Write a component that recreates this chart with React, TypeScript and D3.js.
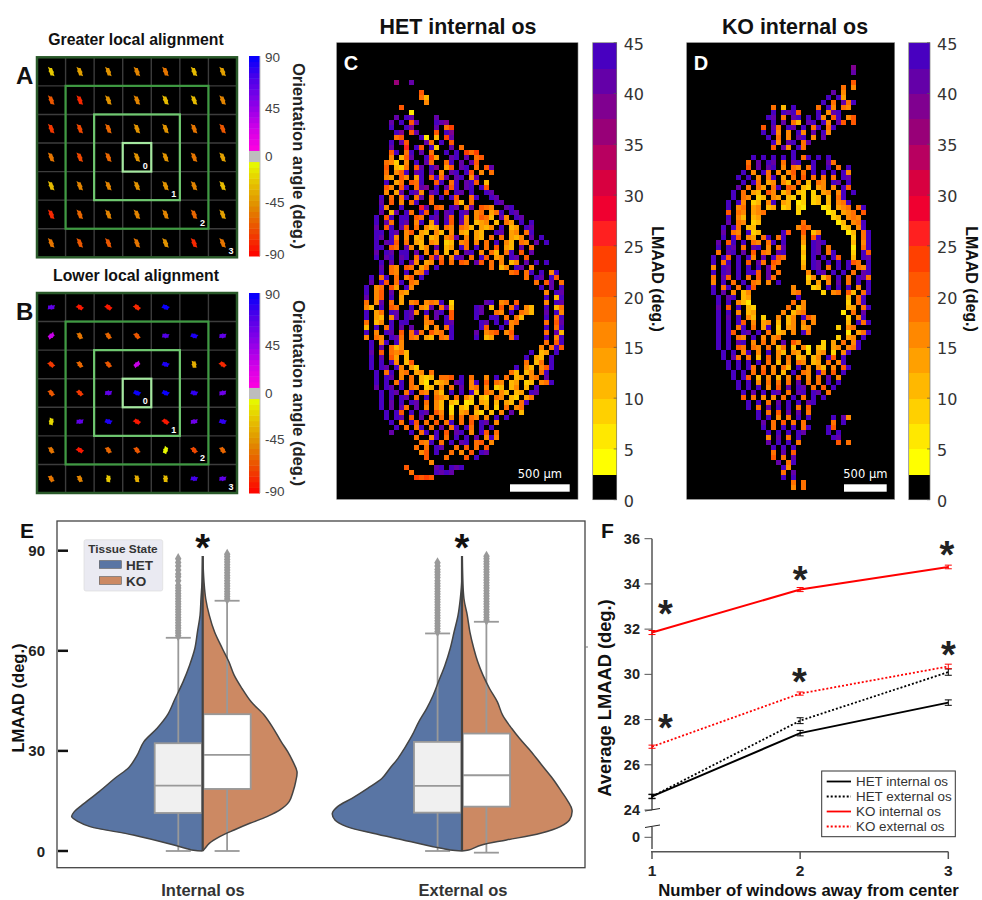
import * as d3 from 'd3';

const sans = '"Liberation Sans", Arial, sans-serif';
const dejavu = '"DejaVu Sans", Verdana, sans-serif';

// A and B: orientation angle in each of the 7x7 windows (null = empty window)
const alignedAngles = [
  [-25, -40, -45, -50, -55, -28, -40],
  [-65, -78, -42, -50, -28, -28, -50],
  [-72, -68, -60, -42, -42, -55, -62],
  [-55, -68, -60, -45, -45, -55, -40],
  [-28, -50, -48, -42, -45, -50, -28],
  [-80, -58, -48, -48, -50, -60, -40],
  [-55, -62, -65, -55, -45, -80, -55],
];
const looseAngles = [
  [60, -85, -82, -80, 85, null, null],
  [25, -55, -60, -65, 65, 80, 60],
  [-75, -60, -65, 25, 80, -35, -80],
  [-65, -72, 60, 85, 85, 75, 55],
  [-20, 60, 80, -85, -82, 55, 75],
  [-55, -85, -60, -62, -8, -68, -60],
  [-55, -50, -25, -35, -30, 70, 60],
];
const orientationTicks = [90, 45, 0, -45, -90];
const orientationLabelOffsets = [1, 51.5, 99.5, 145.5, 197.5];
const windowRings = [0, 1, 2, 3];
const blobOutline = [1, 0.7, 0.85, 0.55, 0.62, 0.5, 0.95, 0.75, 0.9, 0.55, 0.65, 0.5];

// C and D: LMAAD band per tissue cell ('.' = no tissue, a..q = band 1..17)
const hetMap = [
  '......n..p', '', '...........h', '...........gd', '............f', '.......h', '.........b',
  '......p.qp....p', '.....p.q.hp...qpo', '.....q..qo....p.gi', '......qo.hp...h.qo',
  '......gh...qb.d.ip', '.....q.ph...pg.q.h', '.....p..j.qh.qc..p.g', '.....hq.gq.p.g..q.q.igi',
  '.....f.dhp..qie..pq.p.gh', '....gfc.f.q.pg..gq.p.ph', '....h.dcg.hp.qo.eh.pq.g.hp',
  '....g.fhq.pq.p.f.pq.qh.f.g', '....fe.hf.eq.hqgp.pq.fp.', '....q.eg.hgq..hq.gq.pqh.d',
  '....hf.hq.gpo.q.phq.pq.qh', '....f.ep.qpf.pq.h.qp.q..qp', '...q.g.gq.gp.h.q.qh..gq..qp',
  '...p.h.f.gq..g....gd.g....qp', '...qf..q...jp.hg.qp.fp.hgf..pq', '...p.dp.qg.qh.q.pq.qp.fg.egq.qp',
  '..q.hq.qq.hg.qp.ph.qf.fhgd.pf.qp', '..q.pg.qp.fq.eq.qh.pf.def.d.ge.q.q',
  '..p.hq.ph.g.fde.gf.gfd.edf.q.de.qp', '..qq.qp.fh.ed.fd.f.ed.ed..qp.ef.gq',
  '..qp.qf.f.de.de.fgp.f.ed.g.g.edf.p.q', '..q.pqh.g.ed.fe.cd.fg.f.g.q.fd.gf.p.q',
  '..qq.hg.pf.df.p.de.qg.q.g.h.ed.p.g.', '..p.qp.qq.p.f.g.d.f.pq.f.gd.gq.h.p',
  '..q.pq.pq.gq.hpg.fqp.g.qh.ef.qp.h', '...q.p.q.pf.ef.h.g.hg.ph.g.f.df.p.q.q',
  '...p.gf.hg.eg.q..........g.df.qp.f.', '...q.gf.q.fgq................gh.gq.q.fq',
  '.q.gq.g.fh.q....................g.qp.qh', '.p.qh.gq.gf.......................g.hp.g',
  'q.fg.he.qf.........................q.p.q', 'q.fh.p.fe...........................f.qp',
  'p.fh.q.e............................q.dq',
  'g.fp.g.e.fg.fgfq.c......pq.fg.h.....f.qp', 'fd.q.hg..q.fep.gpd....qp.d.h.gq.fd..q.dg',
  'q.eg.qp.qpf.q.pq.h....qp..gf.q.gfd..p.qf', 'q.ed.fp.qp..g.p.qh....q..qq.g.gd....q.gq',
  'g.df.q.qq...fg..qp.....qp.q.qfg.....g.hp', 'd.q.gq.p.p..e.f.gq.....qh..q.f......q.gq',
  'q.f.qp.h.gpg.hfg.q....p.fgh.fh......g.pd', 'f.gf.qpg.gf.ed.gfq....q.de...gq.....q.fq',
  '.q.fq.qf............................g.hq', '.q.p.gdf...........................f.gqh',
  '.p.h.gfgd........................q.de.q', '.q.p.he.d.......................q.ed.q',
  '.q.q.qf.dh......................g.dg.q', '.q.qp.qf.ec...................q.fd.fhq',
  '..q.gq.fg.ef.g...............gd.df.gq.', '..q.qp.f.g.dcd.ggh.q.g..f.q.g.de.fg.p',
  '..q.q.gq.g.db.def.pq.fq.h.gf.de.cd.fgq', '..p.qp.q.gf.cd.f.g.p.fg.f.cd.df.d.q',
  '...q.qp.gq.gf.fd.q.q.qd.gf.fd.de.qp', '...q.q.qp.g.q.gfe.g.fd.dc.gf.dc.eg.',
  '...q.p.q.qp.g.fd.dc.bc.ed.d.ed.gq', '...q.p.pg.p.f.fd.b.dc.f.e.c.g.fg',
  '....q.qh.q.qp.hf.c.ef.dc.d.f.p.d', '....q.qp.h.p.g.g.f.g.gf.f.q.q', '.....q.g.qh.g.h.gq.g.h.qp.f',
  '......q.g.gq.g.p.gq.qg.q.q', '.....p...q.gq.q.h.pq.f.qh.g', '..........g..fq.g.q.q.p.fqf',
  '...........gfq.g.q.pq.gh.f', '..........g.g.qp..g.h.g.h', '...........fh.q..g.f.h.qp',
  '............h...g...h.q', '.............f', '........h.....pq.qpq', '.........g....qpqp', '..........ihih',
];
const koMap = [
  '............................o', '............................p', '', '............................h',
  '..........................g.f', '........................p.f', '.......................q.qe',
  '......................q.g.pgq', '............g.d.q....g.qf.gf', '............q.qpqh...q.fpq.',
  '...........qp.g.pq.q.qf.hq.fh', '............q.p.gd.pq.qf.ph.h', '..........h.pg.qp.q.gq.gq',
  '..........q.qf.f.qf.p.qf', '...........q.g.f.pq.f.p', '............qf.pq.gp.', '............h.pf.qg',
  '................q', '........q.q.q.q.q.gq.q.q', '.......g.p.qp.g.pq..q..pg', '.......h.p.pq.f.gf.gq..q.g.q',
  '......q.f.qg.f.fh.g.q.q.q.qf', '.....q.q.f.gq.e.g.h.g.g.g.qp', '......q.qg.ef.fd.g.d.gf.qp.q',
  '.....p.g.ge.gq.hg.dc.ef.f.qh.', '....q.g.ed.hf.df.dc.c.ef.fq.q', '....q.gf.cd.fe.dc.c.cd.d.gq.',
  '...q.qf.cd.fq.ed.bc.cd.d.fgq', '...q.fg.ef.de.cd.cb...bc.efg.gq', '...h.gf.efg......c.....bc.efg.h',
  '...q.fd.de..............cd.fgf.', '...p.gf.cd........g......bd.fgq', '..q.qg.dd........fhg......cd.fq',
  '..p.gf.qcd....qh..h.df.....bd.gq', '..q.qh.fe.gq.gq...f.hq......c.gq', '.p.hq.q.gf.gq.q...e.qpq.....d.fq',
  '.q.qp.g.pq.f.gp...c.qp.g....b.gq', '.g.pq.p.h.gf.pq...d.qp.gq...c.qh', 'q.qh.q.qf.p.qhg...c.q.q.qh..d.qp',
  'q.gq.q.h.pg.hg....d.qp.q.q.qhg.q', 'f.qp.q.q.q.pg.....e.qp.g.q.q.gfq', 'q.qp.q.qqh.p.g.....f.qp.q.q.g.pq',
  'g.ph.q.g.h.pg......cf.dg.q.g.qpg', 'f.q.g.q.gf.f.q.....d.e.f.p.g.q.q', 'q.gq.g.qh.......f...cd.q.q.q.f.q',
  'q.p.f.df........fg....c.fg.hd.gq', '.q.pq.de.........q.........d.gq.', '.q.q.fdb........g.f........c.gq.',
  '.p.h.q.dc......g.df........de.gq', '.q.q.f.de.....f.dfg.......b.g.p', '.q.p.q.fd.c..f.df.qhf......c.fq.',
  '.q.q.qh.f.ef.d.df.f.f......d.qgq', '.q.q.gq.g.eq.c.ef.ef.....c.fg.', '.q.qh.qp.q.g.de.f.qg.......b.egq',
  '.q.q.gf.q.f.fg...........c.ef.q', '.q.q.pq.f.g.f.p.hf....c.e.g.fq', '.q.q.hg.gf.g.dg.d.fb.dc.ef.fgq',
  '..q.q.fq.f.q.fd.fe.c.ef.c.fq', '..q.pg.g.d.h.f.g.de.df.qh.q', '...q.q.q.q.g.d.f.gf.de.g.fq',
  '...q.q.qg.g.f.gd.q.f.fd.f.hq', '....q.q.g.h.f.d.q.gf.qg.h.q', '....q.qh.d.f.d.f.h.f.g.p.f',
  '.....q.q.f.g.g.g.p.g.g.q.q', '.....q.q.q.f.h.p.qp.g.h.q', '......q.p.q.qp.g.pq.qp.g',
  '......h.g.f.f.g.q.g.q.q', '.......q.q.g.p.q.q.pq', '.......q.g.p.q.q.g.h', '.........q.g.h.p.p.g',
  '.........q.q.f.g.q.q....q.pf', '..........p.g.h.g.g.....g.q', '..........q.g.q.q.gq...qh',
  '...........q.q.q.qp....q.q', '...........f.p.g.q......qp', '...........p.q.q.g.......h.g',
  '............q.q.q', '............g.p.h', '............h.g.p', '.............p.gq', '..............qf',
  '..............g.p', '..............q.q', '................g.g', '................f.g',
];
const lmaadBands = [
  '#000000', '#ffff00', '#ffe800', '#ffd000', '#ffb800', '#ffa000', '#ff8800', '#ff7000', '#ff5800',
  '#ff4000', '#ff2020', '#f00030', '#d80040', '#b80060', '#980078', '#800090', '#6400a8', '#4800c0',
];
const lmaadTicks = [0, 5, 10, 15, 20, 25, 30, 35, 40, 45];

// E: split violins, half-width as a share of the widest half
const internalHetGrid = [0, 0.2, 1.8, 4.8, 7.3, 8.8, 10.3, 11.8, 13.8, 17.8, 21.8, 25.2, 28.7, 32.7, 36.7, 40.7, 45.7, 50.7, 55.7, 60.7, 65.7, 70.7, 75.6, 80.6, 88.4];
const internalHetDensity = [0, 0.07, 0.22, 0.53, 0.86, 0.95, 1, 0.98, 0.92, 0.79, 0.67, 0.56, 0.5, 0.45, 0.35, 0.27, 0.21, 0.15, 0.1, 0.06, 0.04, 0.02, 0.013, 0.005, 0];
const internalKoGrid = [0, 0.8, 2.3, 4.3, 6.3, 8.3, 10.3, 12.3, 14.8, 17.8, 20.8, 23.8, 26.7, 29.7, 32.7, 36.7, 40.7, 44.7, 48.7, 52.7, 56.7, 60.7, 65.7, 70.7, 75.6, 80.6, 88.4];
const internalKoDensity = [0, 0.018, 0.05, 0.13, 0.24, 0.36, 0.49, 0.59, 0.66, 0.69, 0.71, 0.72, 0.69, 0.65, 0.6, 0.54, 0.47, 0.37, 0.3, 0.24, 0.2, 0.15, 0.09, 0.05, 0.023, 0.01, 0];
const externalHetGrid = [0, 0.3, 1.3, 3.3, 5.3, 7.3, 9.3, 11.3, 13.3, 15.8, 18.8, 21.8, 24.8, 27.7, 30.7, 34.7, 38.7, 42.7, 46.7, 50.7, 55.7, 60.7, 65.7, 70.7, 75.6, 80.6, 87.6];
const externalHetDensity = [0, 0.09, 0.22, 0.45, 0.68, 0.88, 0.97, 0.99, 0.95, 0.84, 0.72, 0.61, 0.55, 0.49, 0.44, 0.38, 0.33, 0.27, 0.22, 0.18, 0.13, 0.09, 0.06, 0.03, 0.013, 0.002, 0];
const externalKoGrid = [0, 0.3, 1.8, 3.3, 5.3, 7.3, 9.3, 12.3, 14.8, 17.8, 21.8, 25.7, 29.7, 33.7, 36.7, 40.7, 44.7, 48.7, 52.7, 56.7, 60.7, 65.7, 70.7, 75.6, 87.6];
const externalKoDensity = [0, 0.05, 0.15, 0.34, 0.6, 0.75, 0.82, 0.84, 0.81, 0.76, 0.69, 0.61, 0.53, 0.44, 0.38, 0.31, 0.27, 0.21, 0.16, 0.12, 0.09, 0.06, 0.04, 0.015, 0.002];

// box stats: low whisker, Q1, median, Q3, high whisker
const internalHetBox = [0, 11.4, 19.6, 32.3, 63.9];
const internalKoBox = [0, 18.6, 28.8, 41, 75];
const externalHetBox = [0, 11.5, 19.5, 32.7, 65.2];
const externalKoBox = [-0.5, 13.3, 22.7, 35.2, 68.7];
const internalHetFliers = [64.5, 65.3, 66, 66.8, 67.6, 68.4, 69.2, 70, 70.8, 71.6, 72.4, 73.2, 74, 74.8, 75.6, 76.4, 77.2, 78, 78.8, 79.6, 81, 82.2, 83, 84.2, 85.4, 86.5, 87.6];
const internalKoFliers = [75.5, 76.3, 77, 77.8, 78.6, 79.4, 80.2, 81, 81.8, 82.6, 83.4, 84.2, 85, 85.8, 86.6, 87.4, 88.2, 88.9];
const externalHetFliers = [65.8, 66.6, 67.4, 68.2, 69, 69.8, 70.6, 71.4, 72.2, 73, 73.8, 74.6, 75.4, 76.2, 77, 77.8, 78.6, 79.4, 80.2, 81, 82, 82.8, 83.6, 84.4, 85.4, 86.4];
const externalKoFliers = [69.2, 70, 70.8, 71.6, 72.4, 73.2, 74, 74.8, 75.6, 76.4, 77.2, 78, 78.8, 79.6, 80.4, 81.2, 82, 82.8, 83.6, 84.4, 85.2, 86, 86.8, 87.6, 88.3];
const lmaadAxisTicks = [0, 30, 60, 90];

// F
const windows = [1, 2, 3];
const hetInternal = [24.6, 27.4, 28.75];
const hetExternal = [24.6, 27.95, 30.1];
const koInternal = [31.85, 33.75, 34.75];
const koExternal = [26.8, 29.15, 30.35];
const hetInternalErr = [0.1, 0.12, 0.12];
const hetExternalErr = [0.08, 0.13, 0.14];
const koInternalErr = [0.09, 0.09, 0.08];
const koExternalErr = [0.07, 0.07, 0.1];
const averageTicks = [0, 24, 26, 28, 30, 32, 34, 36];
const starWindows = [1.09, 1.09, 2, 1.995, 2.99, 3];
const starValues = [33, 27.92, 34.5, 29.98, 35.6, 31.15];

// legend rows for F: label, colour, dotted
const trendLabels = ['HET internal os', 'HET external os', 'KO internal os', 'KO external os'];

const angleColor = d3
  .scaleLinear<string>()
  .domain([-90, -70, -45, -25, -5])
  .range(['#ff0000', '#f04000', '#e08c00', '#e6c000', '#e6ff00']);
const anglePositive = d3
  .scaleLinear<string>()
  .domain([5, 25, 45, 70, 90])
  .range(['#ff00e0', '#d000e8', '#9000e8', '#4c00e8', '#0000ff']);
const colorForAngle = (a: number) => {
  const snapped = Math.round((a - 2.5) / 5) * 5 + 2.5;
  if (Math.abs(a) < 5) return '#bdbdbd';
  return a < 0 ? angleColor(snapped) : anglePositive(snapped);
};

const blobPath = d3
  .lineRadial<number>()
  .angle((_, i) => (i / blobOutline.length) * 2 * Math.PI)
  .radius((d) => d)
  .curve(d3.curveLinearClosed)(blobOutline) as string;

function WindowPanel({ angles, top, title, label, elongated, barTop, barScale }: any) {
  const left = 37;
  const size = 200;
  const pos = d3.scaleLinear().domain([0, 7]).range([left, left + size]);
  const posY = d3.scaleLinear().domain([0, 7]).range([top, top + size]);
  const rings = ['#a5e8a0', '#6fc870', '#3f9a42', '#2a5a2a'];
  const ringWidth = [2.2, 2.2, 2.2, 2.5];
  const stepList = d3.range(-90, 90, 5);
  return (
    <g>
      <text x={136} y={top - 12} textAnchor="middle" fontFamily={sans} fontWeight="bold" fontSize={15.8} fill="#111">
        {title}
      </text>
      <text x={16} y={top + 27} fontFamily={sans} fontWeight="bold" fontSize={24} fill="#111">
        {label}
      </text>
      <rect x={left} y={top} width={size} height={size} fill="#000" />
      {d3.range(1, 7).map((i) => (
        <g key={i} stroke="#3c3c3c" strokeWidth={1.4}>
          <line x1={pos(i)} x2={pos(i)} y1={top} y2={top + size} />
          <line x1={left} x2={left + size} y1={posY(i)} y2={posY(i)} />
        </g>
      ))}
      {angles.flatMap((row: (number | null)[], r: number) =>
        row.map((a, c) =>
          a === null ? null : (
            <path
              key={`${r}-${c}`}
              d={blobPath}
              fill={colorForAngle(a)}
              transform={`translate(${pos(c + 0.5)} ${posY(r + 0.5)}) rotate(${elongated ? -35 : a}) scale(${elongated ? 3.6 : 4} ${elongated ? 6 : 4.4})`}
            />
          ),
        ),
      )}
      {windowRings.map((ring, i) => (
        <rect
          key={ring}
          x={pos(3 - ring)}
          y={posY(3 - ring)}
          width={pos(4 + ring) - pos(3 - ring)}
          height={posY(4 + ring) - posY(3 - ring)}
          fill="none"
          stroke={rings[i]}
          strokeWidth={ringWidth[i]}
        />
      ))}
      {windowRings.map((ring) => (
        <text
          key={ring}
          x={pos(4 + ring) - 6}
          y={posY(4 + ring) - 3}
          textAnchor="middle"
          fontFamily={sans}
          fontWeight="bold"
          fontSize={9}
          fill="#fff"
        >
          {ring}
        </text>
      ))}
      {stepList.map((a) => (
        <rect
          key={a}
          x={249}
          y={barScale(a + 5) + barTop}
          width={11}
          height={barScale(a) - barScale(a + 5) + 0.5}
          fill={a === 0 || a === -5 ? '#bdbdbd' : colorForAngle(a + 2.5)}
        />
      ))}
      <line x1={260} x2={260} y1={barTop + barScale(90)} y2={barTop + barScale(-90)} stroke="#bbb" />
      {orientationTicks.map((t, i) => (
        <text key={t} x={265} y={barTop + orientationLabelOffsets[i] + 5} fontFamily={sans} fontSize={13.5} fill="#444">
          {t}
        </text>
      ))}
      <text
        transform={`translate(292.5 ${barTop + 100}) rotate(90)`}
        textAnchor="middle"
        fontFamily={sans}
        fontWeight="bold"
        fontSize={16.6}
        fill="#222"
      >
        Orientation angle (deg.)
      </text>
    </g>
  );
}

function TissueMap({ rows, boxX, boxW, originX, originY, cell, title, titleX, label, barX, barW, barLabelX, scaleText, scaleX1, scaleX2 }: any) {
  const top = 42.7;
  const height = 456.6;
  const col = d3.scaleLinear().domain([0, 1]).range([originX, originX + cell]);
  const row = d3.scaleLinear().domain([0, 1]).range([originY, originY + cell]);
  const bar = d3.scaleLinear().domain([0, 45]).range([top + 457, top]);
  return (
    <g>
      <text x={titleX} y={34} textAnchor="middle" fontFamily={sans} fontWeight="bold" fontSize={21.4} fill="#111">
        {title}
      </text>
      <rect x={boxX} y={top} width={boxW} height={height} fill="#000" stroke="#888" strokeWidth={0.6} />
      <g shapeRendering="crispEdges">
        {rows.flatMap((line: string, r: number) =>
          [...line].map((ch, c) =>
            ch === '.' ? null : (
              <rect key={`${r}-${c}`} x={col(c)} y={row(r)} width={cell} height={cell} fill={lmaadBands[ch.charCodeAt(0) - 96]} />
            ),
          ),
        )}
      </g>
      <text x={boxX + 7} y={top + 27} fontFamily={sans} fontWeight="bold" fontSize={20} fill="#fff">
        {label}
      </text>
      <text x={(scaleX1 + scaleX2) / 2} y={478} textAnchor="middle" fontFamily={dejavu} fontSize={11.5} fill="#fff">
        {scaleText}
      </text>
      <rect x={scaleX1} y={484.3} width={scaleX2 - scaleX1} height={7.4} fill="#fff" />
      {lmaadBands.map((color, i) => (
        <rect key={i} x={barX} y={bar((i + 1) * 2.5)} width={barW} height={bar(0) - bar(2.5) + 0.5} fill={color} shapeRendering="crispEdges" />
      ))}
      <rect x={barX} y={top} width={barW} height={457} fill="none" stroke="#777" strokeWidth={0.7} />
      {lmaadTicks.map((t) => (
        <g key={t}>
          <line x1={barX + barW - 3} x2={barX + barW} y1={bar(t)} y2={bar(t)} stroke="#555" strokeWidth={0.7} />
          <text x={barX + barW + 7} y={bar(t) + 7} fontFamily={dejavu} fontSize={16} fill="#333">
            {t}
          </text>
        </g>
      ))}
      <text
        transform={`translate(${barLabelX} 279) rotate(90)`}
        textAnchor="middle"
        fontFamily={sans}
        fontWeight="bold"
        fontSize={16}
        fill="#111"
      >
        LMAAD (deg.)
      </text>
    </g>
  );
}

const halfColors = { het: '#5975a4', ko: '#cc8963' };
const diamond = d3.symbol().type(d3.symbolDiamond).size(36);

function Violin({ center, hetGrid, hetDensity, koGrid, koDensity, hetBox, koBox, hetFliers, koFliers, y }: any) {
  const width = d3.scaleLinear().domain([0, 1]).range([0, 131]);
  const half = (grid: number[], density: number[], sign: number) =>
    d3
      .area<number>()
      .y((d) => y(d))
      .x0(center)
      .x1((d, i) => center + sign * width(density[i]))
      .curve(d3.curveCatmullRom)(grid) as string;
  const edge = (grid: number[], density: number[], sign: number) =>
    d3
      .line<number>()
      .y((d) => y(d))
      .x((d, i) => center + sign * width(density[i]))
      .curve(d3.curveCatmullRom)(grid) as string;
  const box = (stats: number[], x0: number, x1: number, fill: string) => {
    const mid = (x0 + x1) / 2;
    return (
      <g stroke="#999" strokeWidth={1.8}>
        <line x1={mid} x2={mid} y1={y(stats[0])} y2={y(stats[1])} />
        <line x1={mid} x2={mid} y1={y(stats[3])} y2={y(stats[4])} />
        <line x1={mid - 12.5} x2={mid + 12.5} y1={y(stats[0])} y2={y(stats[0])} />
        <line x1={mid - 12.5} x2={mid + 12.5} y1={y(stats[4])} y2={y(stats[4])} />
        <rect x={x0} y={y(stats[3])} width={x1 - x0} height={y(stats[1]) - y(stats[3])} fill={fill} />
        <line x1={x0} x2={x1} y1={y(stats[2])} y2={y(stats[2])} />
      </g>
    );
  };
  const fliers = (values: number[], x: number) =>
    values.map((v) => <path key={v} d={diamond() as string} transform={`translate(${x} ${y(v)})`} fill="#999" />);
  return (
    <g>
      <path d={half(hetGrid, hetDensity, -1)} fill={halfColors.het} />
      <path d={half(koGrid, koDensity, 1)} fill={halfColors.ko} />
      {box(hetBox, center - 48, center - 0.8, '#f0f0f0')}
      {box(koBox, center + 0.8, center + 48, '#ffffff')}
      {fliers(hetFliers, center - 24.5)}
      {fliers(koFliers, center + 24.5)}
      <path d={edge(hetGrid, hetDensity, -1)} fill="none" stroke="#444" strokeWidth={1.5} />
      <path d={edge(koGrid, koDensity, 1)} fill="none" stroke="#444" strokeWidth={1.5} />
      <line x1={center} x2={center} y1={y(88.4)} y2={y(0)} stroke="#444" strokeWidth={2.2} />
      <text x={center} y={561} textAnchor="middle" fontFamily={sans} fontWeight="bold" fontSize={38} fill="#111">
        *
      </text>
    </g>
  );
}

function ViolinPanel() {
  const y = d3.scaleLinear().domain([0, 90]).range([851, 550.7]);
  return (
    <g>
      <text x={20} y={538} fontFamily={sans} fontWeight="bold" fontSize={21} fill="#111">
        E
      </text>
      <rect x={57} y={521} width={528} height={346.7} fill="#fff" stroke="#444" strokeWidth={1.3} />
      <line x1={585} x2={588} y1={647} y2={647} stroke="#777" />
      <Violin
        center={202.7}
        hetGrid={internalHetGrid}
        hetDensity={internalHetDensity}
        koGrid={internalKoGrid}
        koDensity={internalKoDensity}
        hetBox={internalHetBox}
        koBox={internalKoBox}
        hetFliers={internalHetFliers}
        koFliers={internalKoFliers}
        y={y}
      />
      <Violin
        center={462}
        hetGrid={externalHetGrid}
        hetDensity={externalHetDensity}
        koGrid={externalKoGrid}
        koDensity={externalKoDensity}
        hetBox={externalHetBox}
        koBox={externalKoBox}
        hetFliers={externalHetFliers}
        koFliers={externalKoFliers}
        y={y}
      />
      {lmaadAxisTicks.map((t) => (
        <g key={t}>
          <line x1={58} x2={68} y1={y(t)} y2={y(t)} stroke="#111" strokeWidth={2.5} />
          <text x={45} y={y(t) + 5.5} textAnchor="end" fontFamily={sans} fontWeight="bold" fontSize={15} fill="#222">
            {t}
          </text>
        </g>
      ))}
      <text
        transform="translate(24 698) rotate(-90)"
        textAnchor="middle"
        fontFamily={sans}
        fontWeight="bold"
        fontSize={16.5}
        fill="#111"
      >
        LMAAD (deg.)
      </text>
      <g fontFamily={sans} fontWeight="bold" fontSize={16.5} fill="#333" textAnchor="middle">
        <text x={203} y={896}>
          Internal os
        </text>
        <text x={463} y={896}>
          External os
        </text>
      </g>
      <rect x={84} y={539.7} width={78.7} height={51.3} rx={2} fill="#eaeaf2" stroke="#ddd" strokeWidth={0.7} />
      <text x={123} y={553} textAnchor="middle" fontFamily={sans} fontWeight="bold" fontSize={11.8} fill="#333">
        Tissue State
      </text>
      <rect x={99.3} y={560.7} width={22} height={7.6} fill={halfColors.het} stroke="#555" strokeWidth={0.6} />
      <rect x={99.3} y={576.7} width={22} height={7.6} fill={halfColors.ko} stroke="#555" strokeWidth={0.6} />
      <g fontFamily={sans} fontWeight="bold" fontSize={13.5} fill="#333">
        <text x={126} y={569.5}>
          HET
        </text>
        <text x={126} y={585.5}>
          KO
        </text>
      </g>
    </g>
  );
}

function TrendPanel() {
  const x = d3.scaleLinear().domain([1, 3]).range([652, 948.3]);
  const y = d3.scaleLinear().domain([0, 24, 36]).range([837.3, 810, 538.7]);
  const line = d3
    .line<number>()
    .x((_, i) => x(windows[i]))
    .y((d) => y(d));
  const series = [
    { values: hetInternal, err: hetInternalErr, color: '#000', dotted: false },
    { values: hetExternal, err: hetExternalErr, color: '#000', dotted: true },
    { values: koInternal, err: koInternalErr, color: '#f00', dotted: false },
    { values: koExternal, err: koExternalErr, color: '#f00', dotted: true },
  ];
  return (
    <g>
      <text x={601} y={538} fontFamily={sans} fontWeight="bold" fontSize={21} fill="#111">
        F
      </text>
      <g stroke="#555" strokeWidth={1.5} fill="none">
        <line x1={652} x2={652} y1={y(36)} y2={y(24)} />
        <line x1={652} x2={652} y1={y(24) + 17} y2={849} />
        <line x1={651} x2={948.3} y1={851.7} y2={851.7} />
        {windows.map((w) => (
          <line key={w} x1={x(w)} x2={x(w)} y1={851.7} y2={859} />
        ))}
      </g>
      <g stroke="#222" strokeWidth={1}>
        <line x1={645} x2={660} y1={811} y2={808.5} />
        <line x1={645} x2={660} y1={827.5} y2={825} />
      </g>
      {averageTicks.map((t) => (
        <g key={t}>
          <line x1={644.5} x2={652} y1={y(t)} y2={y(t)} stroke="#555" strokeWidth={1} />
          <text x={640} y={y(t) + 5} textAnchor="end" fontFamily={sans} fontWeight="bold" fontSize={14.5} fill="#222">
            {t}
          </text>
        </g>
      ))}
      {windows.map((w) => (
        <text key={w} x={x(w)} y={876} textAnchor="middle" fontFamily={sans} fontWeight="bold" fontSize={15.5} fill="#222">
          {w}
        </text>
      ))}
      {series.map((s, k) => (
        <g key={k}>
          <path
            d={line(s.values) as string}
            fill="none"
            stroke={s.color}
            strokeWidth={s.dotted ? 1.8 : 2}
            strokeDasharray={s.dotted ? '2 2' : undefined}
          />
          {s.values.map((v, i) => (
            <g key={i} stroke={s.color} strokeWidth={1}>
              <line x1={x(windows[i])} x2={x(windows[i])} y1={y(v - s.err[i])} y2={y(v + s.err[i])} />
              <line x1={x(windows[i]) - 3.5} x2={x(windows[i]) + 3.5} y1={y(v - s.err[i])} y2={y(v - s.err[i])} />
              <line x1={x(windows[i]) - 3.5} x2={x(windows[i]) + 3.5} y1={y(v + s.err[i])} y2={y(v + s.err[i])} />
            </g>
          ))}
        </g>
      ))}
      {starValues.map((v, i) => (
        <text key={i} x={x(starWindows[i])} y={y(v) + 20} textAnchor="middle" fontFamily={sans} fontWeight="bold" fontSize={38} fill="#222">
          *
        </text>
      ))}
      <text
        transform="translate(611 698) rotate(-90)"
        textAnchor="middle"
        fontFamily={sans}
        fontWeight="bold"
        fontSize={18.3}
        fill="#111"
      >
        Average LMAAD (deg.)
      </text>
      <text x={808.5} y={895.5} textAnchor="middle" fontFamily={sans} fontWeight="bold" fontSize={16.7} fill="#111">
        Number of windows away from center
      </text>
      <rect x={821.7} y={771} width={133.6} height={65.7} fill="#fff" stroke="#333" strokeWidth={1} />
      {trendLabels.map((label, i) => (
        <g key={label}>
          <line
            x1={826.7}
            x2={851}
            y1={781.5 + i * 15}
            y2={781.5 + i * 15}
            stroke={series[i].color}
            strokeWidth={1.8}
            strokeDasharray={series[i].dotted ? '2 2' : undefined}
          />
          <text x={856} y={785.5 + i * 15} fontFamily={sans} fontSize={13.4} fill="#333">
            {label}
          </text>
        </g>
      ))}
    </g>
  );
}

export default function App() {
  const barA = d3.scaleLinear().domain([-90, 90]).range([200, 0]);
  return (
    <svg
      width={982}
      height={900}
      viewBox="0 0 982 900"
      style={{ position: 'absolute', left: 0, top: 0, background: '#fff' }}
    >
      <WindowPanel angles={alignedAngles} top={57.3} title="Greater local alignment" label="A" elongated barTop={56} barScale={barA} />
      <WindowPanel angles={looseAngles} top={293} title="Lower local alignment" label="B" elongated={false} barTop={293} barScale={barA} />
      <TissueMap
        rows={hetMap}
        boxX={336.7}
        boxW={241.3}
        originX={364}
        originY={80}
        cell={5}
        title="HET internal os"
        titleX={458}
        label="C"
        barX={592.7}
        barW={24}
        barLabelX={652}
        scaleText="500 µm"
        scaleX1={510}
        scaleX2={569.7}
      />
      <TissueMap
        rows={koMap}
        boxX={686.7}
        boxW={208}
        originX={711}
        originY={65}
        cell={5}
        title="KO internal os"
        titleX={795}
        label="D"
        barX={908.7}
        barW={21.3}
        barLabelX={966}
        scaleText="500 µm"
        scaleX1={844}
        scaleX2={886.7}
      />
      <ViolinPanel />
      <TrendPanel />
    </svg>
  );
}
